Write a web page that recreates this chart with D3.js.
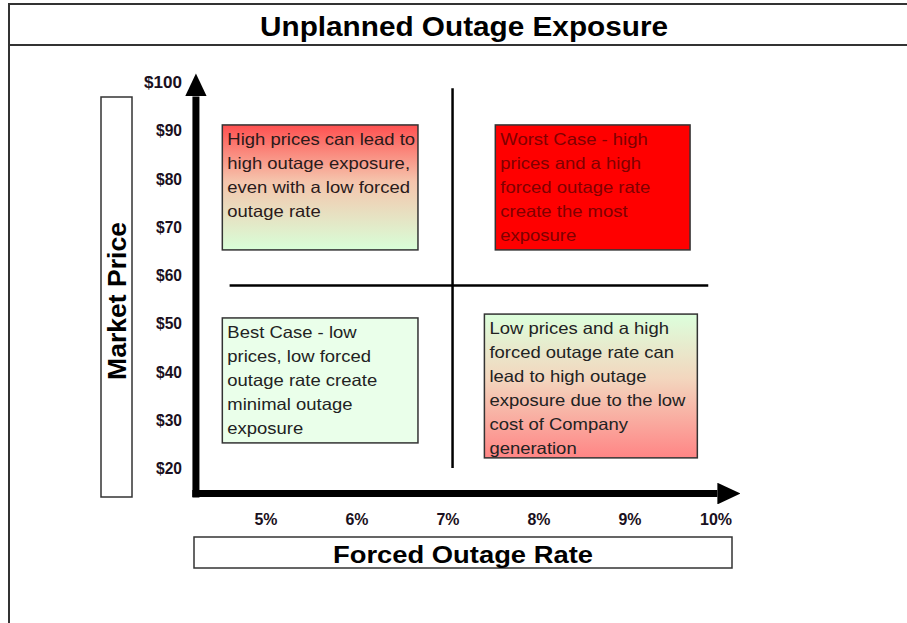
<!DOCTYPE html>
<html>
<head>
  <title>Unplanned Outage Exposure</title>
  <style>
    body { margin: 0; background: #fff; }
    text { font-family: 'Liberation Sans', Arial, sans-serif; }
  </style>
</head>
<body>
  <svg id="main" width="907" height="623"></svg>
  <script src="https://cdn.jsdelivr.net/npm/d3@7.0.1/dist/d3.min.js"></script>
  <script>
    const xTicks = [5, 6, 7, 8, 9, 10]
    const yTicks = [20, 30, 40, 50, 60, 70, 80, 90, 100]
    const xDivider = 7.05
    const yDivider = 57.8

    const quadrants = [
      { x0: 4.52, x1: 6.67, y0: 91.1, y1: 65.2, fill: 'gradTL', color: '#2a1a1a',
        lines: ['High prices can lead to', 'high outage exposure,', 'even with a low forced', 'outage rate'] },
      { x0: 7.52, x1: 9.66, y0: 91.1, y1: 65.2, fill: 'solidRed', color: '#800000',
        lines: ['Worst Case - high', 'prices and a high', 'forced outage rate', 'create the most', 'exposure'] },
      { x0: 4.52, x1: 6.67, y0: 51.1, y1: 25.2, fill: 'paleGreen', color: '#222',
        lines: ['Best Case - low', 'prices, low forced', 'outage rate create', 'minimal outage', 'exposure'] },
      { x0: 7.40, x1: 9.74, y0: 51.9, y1: 22.1, fill: 'gradBR', color: '#222',
        lines: ['Low prices and a high', 'forced outage rate can', 'lead to high outage', 'exposure due to the low', 'cost of Company', 'generation'] }
    ]

    const svg = d3.select('#main')
    const width = +svg.attr('width')

    const xScale = d3.scaleLinear().domain([5, 10]).range([266, 721])
    const yScale = d3.scaleLinear().domain([20, 100]).range([468, 82])

    const defs = svg.append('defs')
    const grad = (id, stops) => {
      const g = defs.append('linearGradient').attr('id', id)
        .attr('x1', 0).attr('y1', 0).attr('x2', 0).attr('y2', 1)
      stops.forEach(s => g.append('stop').attr('offset', s[0]).attr('stop-color', s[1]))
    }
    grad('gradTL', [[0, '#ff5050'], [0.45, '#f5c4ac'], [1, '#d8ffd8']])
    grad('gradBR', [[0, '#dcffdc'], [0.45, '#f3d6be'], [1, '#ff8585']])
    grad('solidRed', [[0, '#ff0000'], [1, '#ff0000']])
    grad('paleGreen', [[0, '#eaffea'], [1, '#eaffea']])

    const arrow = defs.append('marker').attr('id', 'arrow')
      .attr('viewBox', '0 0 10 10').attr('refX', 0).attr('refY', 5)
      .attr('markerWidth', 3.3).attr('markerHeight', 3.1)
      .attr('markerUnits', 'strokeWidth').attr('orient', 'auto')
      .attr('preserveAspectRatio', 'none')
    arrow.append('path').attr('d', 'M0,0L10,5L0,10Z').attr('fill', '#000')

    // frame and title band
    svg.append('path')
      .attr('d', `M9,630V4H${width + 5}M9,45H${width + 5}`)
      .attr('fill', 'none').attr('stroke', '#333').attr('stroke-width', 2)
    svg.append('text').text('Unplanned Outage Exposure')
      .attr('x', 464).attr('y', 36).attr('text-anchor', 'middle')
      .attr('font-size', 27).attr('font-weight', 'bold')
      .attr('textLength', 408).attr('lengthAdjust', 'spacingAndGlyphs')

    // quadrant boxes
    const q = svg.selectAll('.quad').data(quadrants).join('g').attr('class', 'quad')
    q.append('rect')
      .attr('x', d => xScale(d.x0)).attr('y', d => yScale(d.y0))
      .attr('width', d => xScale(d.x1) - xScale(d.x0))
      .attr('height', d => yScale(d.y1) - yScale(d.y0))
      .attr('fill', d => `url(#${d.fill})`)
      .attr('stroke', '#333').attr('stroke-width', 1.5)
    q.append('text')
      .attr('fill', d => d.color).attr('font-size', 16.5)
      .attr('transform', d => `translate(${xScale(d.x0) + 5},${yScale(d.y0) + 20}) scale(1.12,1)`)
      .each(function (d) {
        d3.select(this).selectAll('tspan').data(d.lines).join('tspan')
          .attr('x', 0)
          .attr('y', (l, i) => i * 24)
          .text(l => l)
      })

    // quadrant dividers
    svg.append('line')
      .attr('x1', xScale(xDivider)).attr('x2', xScale(xDivider))
      .attr('y1', yScale(98.7)).attr('y2', yScale(20))
      .attr('stroke', '#000').attr('stroke-width', 2.5)
    svg.append('line')
      .attr('x1', xScale(4.6)).attr('x2', xScale(9.86))
      .attr('y1', yScale(yDivider)).attr('y2', yScale(yDivider))
      .attr('stroke', '#000').attr('stroke-width', 2.5)

    // axes
    svg.append('path')
      .attr('d', `M${xScale(4.23)},${yScale(13.9)}V${yScale(97.0)}`)
      .attr('stroke', '#000').attr('stroke-width', 7).attr('fill', 'none')
      .attr('marker-end', 'url(#arrow)')
    svg.append('path')
      .attr('d', `M${xScale(4.19)},${yScale(14.7)}H${xScale(9.96)}`)
      .attr('stroke', '#000').attr('stroke-width', 7).attr('fill', 'none')
      .attr('marker-end', 'url(#arrow)')

    svg.selectAll('.ytick').data(yTicks).join('text').attr('class', 'ytick')
      .attr('x', 182).attr('y', d => yScale(d) + 6)
      .attr('text-anchor', 'end').attr('font-size', 17).attr('font-weight', 'bold')
      .attr('fill', '#1a1020')
      .attr('textLength', d => d === 100 ? 38 : 26).attr('lengthAdjust', 'spacingAndGlyphs')
      .text(d => '$' + d)

    svg.selectAll('.xtick').data(xTicks).join('text').attr('class', 'xtick')
      .attr('x', d => xScale(d) - (d === 10 ? 5 : 0)).attr('y', 525)
      .attr('text-anchor', 'middle').attr('font-size', 17).attr('font-weight', 'bold')
      .attr('fill', '#1a1020')
      .attr('textLength', d => d === 10 ? 32 : 23).attr('lengthAdjust', 'spacingAndGlyphs')
      .text(d => d + '%')

    // axis title boxes
    svg.append('rect').attr('x', 101).attr('y', 97).attr('width', 31).attr('height', 400)
      .attr('fill', '#fff').attr('stroke', '#333').attr('stroke-width', 1.5)
    svg.append('text').text('Market Price')
      .attr('transform', 'translate(126,301) rotate(-90)')
      .attr('text-anchor', 'middle').attr('font-size', 25).attr('font-weight', 'bold')
      .attr('textLength', 158).attr('lengthAdjust', 'spacingAndGlyphs')

    svg.append('rect').attr('x', 194).attr('y', 537).attr('width', 538).attr('height', 31)
      .attr('fill', '#fff').attr('stroke', '#333').attr('stroke-width', 1.5)
    svg.append('text').text('Forced Outage Rate')
      .attr('x', 463).attr('y', 563)
      .attr('text-anchor', 'middle').attr('font-size', 24).attr('font-weight', 'bold')
      .attr('textLength', 260).attr('lengthAdjust', 'spacingAndGlyphs')
  </script>
</body>
</html>
